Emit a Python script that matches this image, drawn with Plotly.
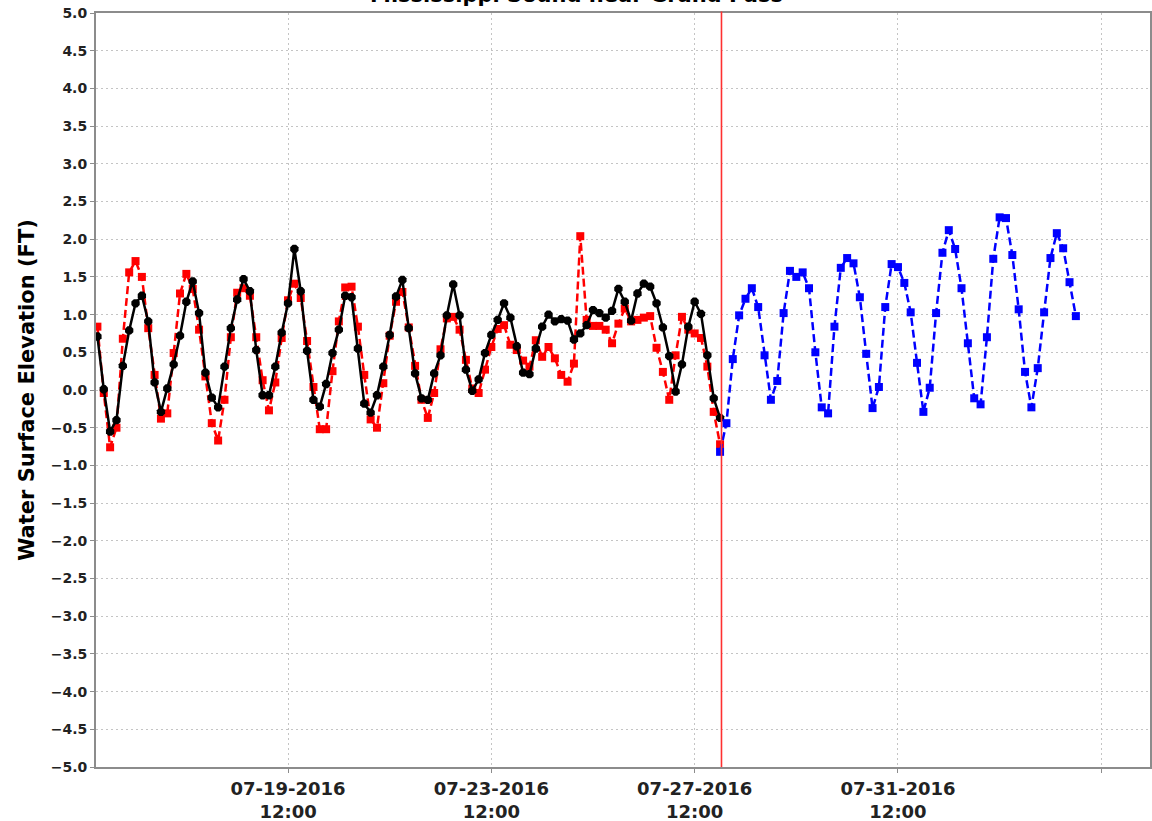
import pandas as pd
import plotly.graph_objects as go

# ---------------- data ----------------
obs_start = "2016-07-15 18:00"
fcst_start = "2016-07-28 00:00"
now_time = "2016-07-28 00:40"
step = "3h"

observed = [0.71, 0.01, -0.55, -0.40, 0.32, 0.79, 1.15, 1.25, 0.91, 0.10,
            -0.29, 0.02, 0.34, 0.72, 1.17, 1.44, 1.02, 0.23, -0.10, -0.23,
            0.31, 0.82, 1.20, 1.47, 1.31, 0.53, -0.07, -0.07, 0.31, 0.76,
            1.15, 1.87, 1.31, 0.52, -0.13, -0.22, 0.08, 0.49, 0.80, 1.25,
            1.23, 0.55, -0.18, -0.30, -0.07, 0.31, 0.73, 1.24, 1.46, 0.82,
            0.22, -0.11, -0.13, 0.22, 0.46, 0.99, 1.40, 0.99, 0.27, -0.01,
            0.14, 0.49, 0.73, 0.93, 1.15, 0.96, 0.58, 0.23, 0.21, 0.55,
            0.84, 1.00, 0.91, 0.94, 0.92, 0.67, 0.75, 0.86, 1.06, 1.02,
            0.96, 1.05, 1.34, 1.17, 0.92, 1.28, 1.41, 1.37, 1.15, 0.83,
            0.45, -0.02, 0.34, 0.84, 1.17, 1.01, 0.46, -0.11, -0.37]

hindcast = [0.84, -0.04, -0.76, -0.50, 0.68, 1.56, 1.71, 1.50, 0.82, 0.20,
            -0.38, -0.31, 0.49, 1.28, 1.54, 1.34, 0.80, 0.18, -0.44, -0.67,
            -0.13, 0.70, 1.29, 1.35, 1.25, 0.70, 0.13, -0.27, 0.10, 0.69,
            1.19, 1.41, 1.22, 0.65, 0.04, -0.52, -0.52, 0.25, 0.91, 1.36,
            1.37, 0.84, 0.20, -0.39, -0.50, 0.09, 0.72, 1.17, 1.30, 0.83,
            0.32, -0.13, -0.37, -0.04, 0.54, 0.95, 0.97, 0.80, 0.40, 0.02,
            -0.04, 0.27, 0.57, 0.81, 0.86, 0.60, 0.53, 0.39, 0.31, 0.66,
            0.44, 0.57, 0.42, 0.20, 0.11, 0.35, 2.04, 0.93, 0.85, 0.85,
            0.80, 0.62, 0.88, 1.08, 0.91, 0.93, 0.96, 0.98, 0.56, 0.24,
            -0.13, 0.46, 0.97, 0.80, 0.75, 0.69, 0.31, -0.29, -0.72]

forecast = [-0.82, -0.44, 0.41, 0.99, 1.21, 1.35, 1.10, 0.46, -0.13, 0.12,
            1.02, 1.58, 1.50, 1.56, 1.35, 0.50, -0.23, -0.31, 0.84, 1.62,
            1.75, 1.68, 1.23, 0.48, -0.24, 0.04, 1.10, 1.67, 1.63, 1.42,
            1.03, 0.36, -0.29, 0.03, 1.02, 1.82, 2.12, 1.87, 1.35, 0.62,
            -0.11, -0.19, 0.70, 1.74, 2.29, 2.28, 1.79, 1.07, 0.24, -0.23,
            0.29, 1.03, 1.75, 2.08, 1.88, 1.43, 0.98]

tick_dates = ["2016-07-19 12:00", "2016-07-23 12:00", "2016-07-27 12:00",
              "2016-07-31 12:00", "2016-08-04 12:00"]
tick_labels = ["07-19-2016<br>12:00", "07-23-2016<br>12:00", "07-27-2016<br>12:00",
               "07-31-2016<br>12:00", ""]
x_range = ["2016-07-15 17:20", "2016-08-05 11:00"]
title_text = "Mississippi Sound near Grand Pass"
y_title = "Water Surface Elevation (FT)"

# ---------------- figure ----------------
t_obs = pd.date_range(obs_start, periods=len(observed), freq=step)
t_hind = pd.date_range(obs_start, periods=len(hindcast), freq=step)
t_fc = pd.date_range(fcst_start, periods=len(forecast), freq=step)

fig = go.Figure()
fig.add_trace(go.Scatter(x=t_hind, y=hindcast, mode="lines+markers",
                         line=dict(color="#ff0000", width=2.5, dash="8px,4px"),
                         marker=dict(symbol="square", size=8, color="#ff0000"),
                         name="Hindcast"))
fig.add_trace(go.Scatter(x=t_obs, y=observed, mode="lines+markers",
                         line=dict(color="#000000", width=2.5),
                         marker=dict(symbol="octagon", size=9, color="#000000"),
                         name="Observed"))
fig.add_trace(go.Scatter(x=t_fc, y=forecast, mode="lines+markers",
                         line=dict(color="#0000ff", width=2.5, dash="8px,4px"),
                         marker=dict(symbol="square", size=8, color="#0000ff"),
                         name="Forecast"))

fig.add_shape(type="line", xref="x", yref="paper", x0=now_time, x1=now_time,
              y0=0, y1=1.002, layer="above", line=dict(color="#ff3030", width=1.6))

fig.add_annotation(text=title_text, xref="paper", yref="paper",
                   x=(576 - 96) / 1054, y=1.0, yshift=4, xanchor="center",
                   yanchor="bottom", showarrow=False,
                   font=dict(family="DejaVu Sans", size=21, color="#000000", weight="bold"))

fig.update_layout(
    width=1152, height=821,
    margin=dict(l=96, r=2, t=13, b=54, autoexpand=False),
    paper_bgcolor="white", plot_bgcolor="white",
    showlegend=False, hovermode=False,
)
fig.update_xaxes(
    range=x_range, tickvals=tick_dates, ticktext=tick_labels,
    showgrid=True, gridcolor="#c4c4c4", griddash="2px,3px", gridwidth=1,
    showline=True, linecolor="#8c8c8c", linewidth=2, mirror=True,
    ticks="outside", ticklen=4, tickcolor="#8c8c8c",
    tickfont=dict(family="DejaVu Sans", size=18, color="#222222", weight="bold"),
    zeroline=False, automargin=False, showspikes=False,
)
fig.update_yaxes(
    range=[-5, 5], dtick=0.5, tick0=0, tickformat=".1f",
    showgrid=True, gridcolor="#c4c4c4", griddash="2px,3px", gridwidth=1,
    showline=True, linecolor="#8c8c8c", linewidth=2, mirror=True,
    ticks="outside", ticklen=4, tickcolor="#8c8c8c",
    tickfont=dict(family="DejaVu Sans", size=14, color="#222222", weight="bold"),
    title=dict(text=y_title, standoff=10,
               font=dict(family="DejaVu Sans", size=21, color="#000000", weight="bold")),
    zeroline=False, automargin=False, showspikes=False,
)

fig.write_html("out.html", config={"displayModeBar": False, "staticPlot": True},
               post_script="document.body.style.margin='0';document.body.style.overflow='hidden';")
